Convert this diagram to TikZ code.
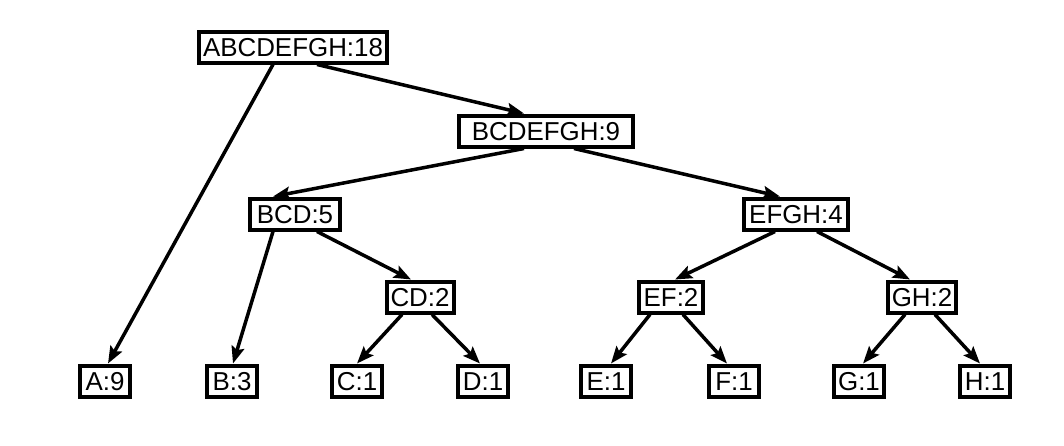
\documentclass[tikz,border=0pt]{standalone}
\usepackage{fontspec}
\setmainfont{Liberation Sans}
\usetikzlibrary{arrows.meta}

\tikzset{
	box/.style={draw,line width=4pt,inner xsep=4pt,inner ysep=6pt,text height=19pt,text depth=0pt,font=\fontsize{25.9}{30}\selectfont},
	arr/.style={line width=3.5pt,-{Stealth[length=17pt,width=13pt,inset=3pt]}}
}

\begin{document}
\begin{tikzpicture}[x=1pt,y=-1pt]
			\useasboundingbox (0,0) rectangle (1064,445);
			
			\node[box,minimum width=188] (abcdefgh) at (293,47) {ABCDEFGH:18};
			\node[box,minimum width=174] (bcdefgh) at (546,131) {BCDEFGH:9};
			\node[box,minimum width=90] (bcd) at (295,214) {BCD:5};
			\node[box,minimum width=104] (efgh) at (796,214) {EFGH:4};
			\node[box,minimum width=64] (cd) at (420,297) {CD:2};
			\node[box,minimum width=64] (ef) at (671,297) {EF:2};
			\node[box,minimum width=66] (gh) at (922,297) {GH:2};
			
			\foreach \n/\v/\x in {A/9/105,B/3/232,C/1/357,D/1/483,E/1/606,F/1/734,G/1/859,H/1/985}
			\node[box,minimum width=50] (\n) at (\x,381) {\n:\v};
			
			\foreach \p/\ps/\c/\cs in {abcdefgh/-20/A/3,abcdefgh/24/bcdefgh/-22,bcdefgh/-22/bcd/-22,bcdefgh/28/efgh/-16,bcd/-22/B/1,bcd/22/cd/-9,cd/-18/C/0,cd/12/D/-3,efgh/-21/ef/4,efgh/21/gh/-12,ef/-21/E/5,ef/12/F/-7,gh/-17/G/4,gh/13/H/-5}
			\draw[arr] ([xshift=\ps pt]\p.south) -- ([xshift=\cs pt]\c.north);
			\end{tikzpicture}
\end{document}
